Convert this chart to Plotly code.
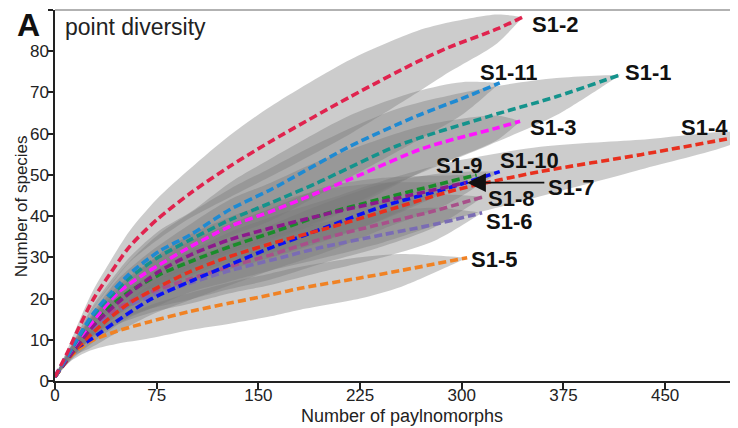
import plotly.graph_objects as go

# ---------------- data ----------------
# S1-1 (teal)
s1_1_x = [0, 15, 28, 41, 55, 77, 100, 129, 159, 193, 252, 320, 370, 417]
s1_1_y = [1, 9.2, 15.7, 20.5, 25, 30.2, 34.3, 39.1, 43.2, 48, 57, 64.2, 69, 74.3]
s1_1_hw = [0, 1, 2, 3, 4, 5.5, 6.5, 7.5, 8.5, 9.5, 9, 7, 4.5, 0]
# S1-2 (crimson)
s1_2_x = [0, 9, 18, 28, 41, 55, 75, 100, 129, 159, 218, 267, 291, 326, 345]
s1_2_y = [1, 6.8, 13.2, 19.7, 26.2, 32.6, 39.1, 45.6, 52.1, 58.1, 69, 77.4, 81, 85.4, 88.3]
s1_2_hw = [0, 0.8, 1.5, 2.2, 3, 3.8, 5, 6, 7.5, 8.5, 9, 7.5, 6, 3.5, 0]
# S1-3 (magenta)
s1_3_x = [0, 15, 33, 46, 65, 77, 100, 129, 159, 193, 225, 272, 326, 343]
s1_3_y = [1, 9, 16.5, 21.3, 25.8, 28.2, 32.6, 37.5, 41.1, 45.6, 50, 56.5, 61.4, 63]
s1_3_hw = [0, 1.2, 2.5, 3.2, 4.2, 4.8, 5.5, 6.5, 7, 7.5, 7, 5.5, 3, 0]
# S1-4 (red)
s1_4_x = [0, 15, 36, 55, 77, 100, 129, 159, 200, 242, 296, 358, 432, 505]
s1_4_y = [1, 7.5, 14.1, 18.9, 22.9, 26.6, 30.2, 33.3, 37, 41.1, 46.4, 50.8, 54.9, 59.3]
s1_4_hw = [0, 1.5, 2.8, 3.5, 4.5, 5, 6, 6.5, 7, 7.5, 7, 6, 3.6, 0.8]
# S1-5 (orange)
s1_5_x = [0, 11, 26, 45, 70, 100, 129, 159, 181, 225, 255, 304]
s1_5_y = [1, 5.9, 9.6, 12, 14.4, 16.9, 18.9, 20.9, 22.5, 25, 26.8, 29.9]
s1_5_hw = [0, 1.2, 2.2, 3, 4, 4.5, 5, 5.2, 5.2, 5, 4, 0]
# S1-6 (slate)
s1_6_x = [0, 12, 28, 45, 70, 100, 129, 159, 195, 242, 280, 315]
s1_6_y = [1, 6.8, 13, 16.8, 20.5, 23.8, 26.8, 29.3, 32.3, 35.5, 38, 40.8]
s1_6_hw = [0, 1.2, 2.5, 3.2, 4, 5, 5.5, 6, 6, 5.5, 4, 0]
# S1-7 (purple)
s1_7_x = [0, 15, 30, 50, 77, 100, 129, 159, 200, 242, 303]
s1_7_y = [1, 8, 14, 20, 26.6, 30.6, 34.3, 37.1, 40.5, 43.6, 48.1]
s1_7_hw = [0, 1.5, 2.5, 3.2, 4.2, 5, 5.5, 6, 6, 4.5, 0]
# S1-8 (mauve)
s1_8_x = [0, 12, 28, 45, 70, 100, 129, 159, 195, 242, 280, 316]
s1_8_y = [1, 7, 13.6, 17.5, 21.5, 24.8, 27.8, 30.6, 34.3, 38.2, 41.3, 44.7]
s1_8_hw = [0, 1.2, 2.5, 3.2, 4, 5, 5.5, 6, 6, 5.5, 4, 0]
# S1-9 (green)
s1_9_x = [0, 15, 38, 55, 77, 100, 129, 159, 200, 242, 311]
s1_9_y = [1, 8, 17.3, 21.7, 25.8, 29, 32.6, 35.9, 40.6, 44.3, 50]
s1_9_hw = [0, 1.5, 3, 3.7, 4.5, 5, 5.5, 6, 6.5, 5, 0]
# S1-10 (blue)
s1_10_x = [0, 11, 26, 45, 70, 100, 129, 159, 200, 242, 290, 328]
s1_10_y = [1, 6.8, 10, 14.4, 19.7, 24.2, 28.2, 32.3, 37.3, 42.4, 46.8, 50.8]
s1_10_hw = [0, 1.2, 2, 2.8, 3.8, 4.5, 5, 5.5, 6, 5.5, 3.8, 0]
# S1-11 (light blue)
s1_11_x = [0, 15, 28, 41, 55, 77, 100, 129, 159, 218, 267, 300, 328]
s1_11_y = [1, 9.5, 16.3, 21.3, 26, 31.5, 35.5, 41.6, 46.4, 57, 64.3, 68.5, 72.3]
s1_11_hw = [0, 1, 2, 3, 4, 5, 5.5, 6.5, 7.5, 7.5, 6, 4, 0]

# drawing order (bottom -> top)
series_names = ["S1-5", "S1-6", "S1-8", "S1-10", "S1-4", "S1-9", "S1-7",
                "S1-3", "S1-1", "S1-11", "S1-2"]
series_colors = ["#f08224", "#7a6cb4", "#a8508a", "#0a10f5", "#e8301e", "#1a8c2a",
                 "#8c1a8c", "#ff14ff", "#14938c", "#1f8ad2", "#e0234e"]
series_data = {
    "S1-1": (s1_1_x, s1_1_y, s1_1_hw), "S1-2": (s1_2_x, s1_2_y, s1_2_hw),
    "S1-3": (s1_3_x, s1_3_y, s1_3_hw), "S1-4": (s1_4_x, s1_4_y, s1_4_hw),
    "S1-5": (s1_5_x, s1_5_y, s1_5_hw), "S1-6": (s1_6_x, s1_6_y, s1_6_hw),
    "S1-7": (s1_7_x, s1_7_y, s1_7_hw), "S1-8": (s1_8_x, s1_8_y, s1_8_hw),
    "S1-9": (s1_9_x, s1_9_y, s1_9_hw), "S1-10": (s1_10_x, s1_10_y, s1_10_hw),
    "S1-11": (s1_11_x, s1_11_y, s1_11_hw),
}

# curve labels
label_names = ["S1-2", "S1-1", "S1-11", "S1-3", "S1-4", "S1-9", "S1-10",
               "S1-7", "S1-8", "S1-6", "S1-5"]
label_x = [350, 419, 312, 349, 460.5, 279.5, 326.5, 362, 318, 316.5, 305.5]
label_y = [86.5, 75, 75, 61.5, 61.5, 52.5, 53.7, 47.1, 44.3, 38.9, 29.6]

x_ticks = [0, 75, 150, 225, 300, 375, 450]
y_ticks = [0, 10, 20, 30, 40, 50, 60, 70, 80, 90]
y_ticktext = ["0", "10", "20", "30", "40", "50", "60", "70", "80", ""]

FONT = "Liberation Sans, Arial, sans-serif"

fig = go.Figure()

# confidence bands
for name in series_names:
    xs, ys, hw = series_data[name]
    hi = [y + h for y, h in zip(ys, hw)]
    lo = [y - h for y, h in zip(ys, hw)]
    fig.add_trace(go.Scatter(
        x=xs + xs[::-1], y=hi + lo[::-1], mode="lines", fill="toself",
        fillcolor="rgba(120,120,120,0.38)", line=dict(width=0, shape="spline", smoothing=0.8),
        hoverinfo="skip", showlegend=False))

# dashed curves
for name, col in zip(series_names, series_colors):
    xs, ys, hw = series_data[name]
    fig.add_trace(go.Scatter(
        x=xs, y=ys, mode="lines", name=name,
        line=dict(color=col, width=3.6, dash="8px,4px", shape="spline", smoothing=0.8),
        showlegend=False))

annotations = []
for t, lx, ly in zip(label_names, label_x, label_y):
    annotations.append(dict(x=lx, y=ly, xref="x", yref="y", text="<b>%s</b>" % t,
                            showarrow=False, xanchor="left", yanchor="middle", height=22,
                            font=dict(family=FONT, size=22, color="#111")))
# arrow to S1-7
annotations.append(dict(x=304, y=48.1, xref="x", yref="y", ax=362, ay=48.1,
                        axref="x", ayref="y", text="", showarrow=True,
                        arrowhead=2, arrowsize=2.2, arrowwidth=1.7, arrowcolor="#111"))
# panel letter and title
annotations.append(dict(x=-0.039, y=0.96, xref="paper", yref="paper", text="<b>A</b>",
                        showarrow=False, xanchor="center", yanchor="middle",
                        font=dict(family=FONT, size=32, color="#111")))
annotations.append(dict(x=0.012, y=0.955, xref="paper", yref="paper", text="point diversity",
                        showarrow=False, xanchor="left", yanchor="middle",
                        font=dict(family=FONT, size=23, color="#222")))
# axis titles
annotations.append(dict(x=0.509, y=-0.095, xref="paper", yref="paper",
                        text="Number of paylnomorphs", showarrow=False,
                        xanchor="center", yanchor="middle",
                        font=dict(family=FONT, size=18, color="#222")))
annotations.append(dict(x=-0.048, y=0.472, xref="paper", yref="paper",
                        text="Number of species", showarrow=False, textangle=-90,
                        xanchor="center", yanchor="middle",
                        font=dict(family=FONT, size=17, color="#222")))

# the page body adds an 8px offset, so the figure is 8px smaller than the window
fig.update_layout(
    width=730, height=420,
    margin=dict(l=47, r=1, t=2, b=47),
    paper_bgcolor="white", plot_bgcolor="white",
    annotations=annotations,
    shapes=[
        dict(type="line", xref="paper", yref="paper", x0=0, x1=1, y0=1, y1=1,
             line=dict(color="#666", width=1.2)),
        dict(type="line", xref="paper", yref="paper", x0=1, x1=1, y0=0, y1=1,
             line=dict(color="#666", width=1.2)),
    ],
    xaxis=dict(range=[0, 503], tickvals=x_ticks, showgrid=False, zeroline=False,
               showline=True, linecolor="#222", linewidth=1.5,
               ticks="outside", ticklen=6, tickwidth=2, tickcolor="#222",
               ticklabelstandoff=-8,
               tickfont=dict(family=FONT, size=17, color="#222")),
    yaxis=dict(range=[0, 90], tickvals=y_ticks, ticktext=y_ticktext, showgrid=False,
               zeroline=False, showline=True, linecolor="#222", linewidth=1.5,
               ticks="outside", ticklen=5, tickwidth=2, tickcolor="#222",
               ticklabelstandoff=-4,
               tickfont=dict(family=FONT, size=17, color="#222")),
)

fig.write_html("out.html")
